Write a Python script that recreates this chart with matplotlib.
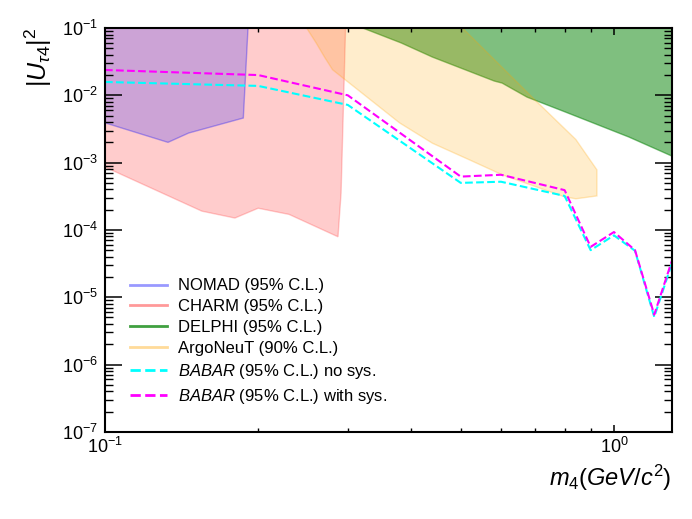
import matplotlib
matplotlib.use('Agg')
import matplotlib.pyplot as plt
from matplotlib.lines import Line2D
from matplotlib.ticker import LogLocator, NullFormatter

# fonts: helvetica-like
plt.rcParams['font.family'] = ['Liberation Sans', 'DejaVu Sans']
plt.rcParams['mathtext.fontset'] = 'custom'
plt.rcParams['mathtext.rm'] = 'Liberation Sans'
plt.rcParams['mathtext.it'] = 'Liberation Sans:italic'
plt.rcParams['mathtext.bf'] = 'Liberation Sans:bold'

# exclusion regions
nomad_x = [0.1, 0.1, 0.133, 0.146, 0.187, 0.191]
nomad_y = [0.1, 3.9e-3, 2.0e-3, 2.75e-3, 4.6e-3, 0.1]

charm_x = [0.1, 0.1, 0.155, 0.18, 0.2, 0.23, 0.287, 0.291, 0.297]
charm_y = [0.1, 8.6e-4, 1.9e-4, 1.5e-4, 2.1e-4, 1.7e-4, 7.9e-5, 3.5e-4, 0.1]

delphi_x = [0.321, 0.382, 0.44, 0.582, 0.603, 0.675, 0.805, 1.07, 1.3, 1.3]
delphi_y = [0.1, 0.06, 0.037, 0.0163, 0.0152, 9.4e-3, 5.6e-3, 2.4e-3, 1.25e-3, 0.1]

argo_x = [0.249, 0.26, 0.27, 0.28, 0.379, 0.44, 0.52, 0.603, 0.80, 0.842, 0.926, 0.926, 0.842, 0.70, 0.504]
argo_y = [0.1, 0.06, 0.037, 0.024, 3.9e-3, 1.94e-3, 1.1e-3, 6.6e-4, 3.1e-4, 2.9e-4, 3.2e-4, 7.8e-4, 2.2e-3, 8.5e-3, 0.1]

# BABAR limits
babar_m = [0.1, 0.2, 0.3, 0.5, 0.6, 0.8, 0.9, 1.0, 1.1, 1.2, 1.3]
babar_nosys = [0.0158, 0.0138, 7.2e-3, 5.0e-4, 5.2e-4, 3.2e-4, 5.0e-5, 8.3e-5, 4.9e-5, 5.1e-6, 3.2e-5]
babar_sys = [0.0238, 0.020, 0.010, 6.2e-4, 6.6e-4, 3.9e-4, 5.6e-5, 9.3e-5, 5.0e-5, 5.5e-6, 3.5e-5]

fig = plt.figure(figsize=(6.92, 5.19), dpi=100)
ax = fig.add_axes([0.1517, 0.168, 0.8193, 0.778])

ax.fill(charm_x, charm_y, facecolor=(1, 0, 0, 0.2), edgecolor=(1, 0, 0, 0.2), lw=1)
ax.fill(nomad_x, nomad_y, facecolor=(0, 0, 1, 0.2), edgecolor=(0, 0, 1, 0.3), lw=1)
ax.fill(delphi_x, delphi_y, facecolor=(0, 0.5, 0, 0.5), edgecolor=(0, 0.5, 0, 0.5), lw=1)
ax.fill(argo_x, argo_y, facecolor=(1, 0.647, 0, 0.2), edgecolor=(1, 0.647, 0, 0.25), lw=1)

ax.plot(babar_m, babar_nosys, '--', color='cyan', lw=1.5)
ax.plot(babar_m, babar_sys, '--', color='magenta', lw=1.5)

ax.set_xscale('log')
ax.set_yscale('log')
ax.set_xlim(0.1, 1.3)
ax.set_ylim(1e-7, 1e-1)

ax.yaxis.set_minor_locator(LogLocator(base=10, subs=range(2, 10), numticks=20))
ax.yaxis.set_minor_formatter(NullFormatter())
ax.xaxis.set_minor_formatter(NullFormatter())

ax.tick_params(which='both', direction='in', top=True, right=True, labelsize=13)
ax.tick_params(axis='y', which='major', length=12, width=1.1, pad=5)
ax.tick_params(axis='y', which='minor', length=6, width=1.0)
ax.tick_params(axis='x', which='major', length=5, width=1.1, pad=4)
ax.tick_params(axis='x', which='minor', length=3, width=1.0)
for s in ax.spines.values():
    s.set_linewidth(1.5)

ax.set_xlabel(r'$m_4(GeV/c^2)$', fontsize=17, loc='right')
ax.set_ylabel(r'$|U_{\tau 4}|^2$', fontsize=18, loc='top', labelpad=6)

handles = [
    Line2D([], [], color=(0, 0, 1, 0.4), lw=2),
    Line2D([], [], color=(1, 0, 0, 0.4), lw=2),
    Line2D([], [], color=(0, 0.5, 0, 0.75), lw=2),
    Line2D([], [], color=(1, 0.647, 0, 0.4), lw=2),
    Line2D([], [], color='cyan', lw=2, ls='--'),
    Line2D([], [], color='magenta', lw=2, ls='--'),
]
labels = ['NOMAD (95% C.L.)', 'CHARM (95% C.L.)', 'DELPHI (95% C.L.)',
          'ArgoNeuT (90% C.L.)', r'$BABAR$ (95% C.L.) no sys.',
          r'$BABAR$ (95% C.L.) with sys.']
ax.legend(handles, labels, loc='upper left', bbox_to_anchor=(0.044, 0.38),
          frameon=False, fontsize=12, borderpad=0, borderaxespad=0,
          handlelength=2.2, handletextpad=0.7, labelspacing=0.35)

fig.savefig('out.png', dpi=100)
